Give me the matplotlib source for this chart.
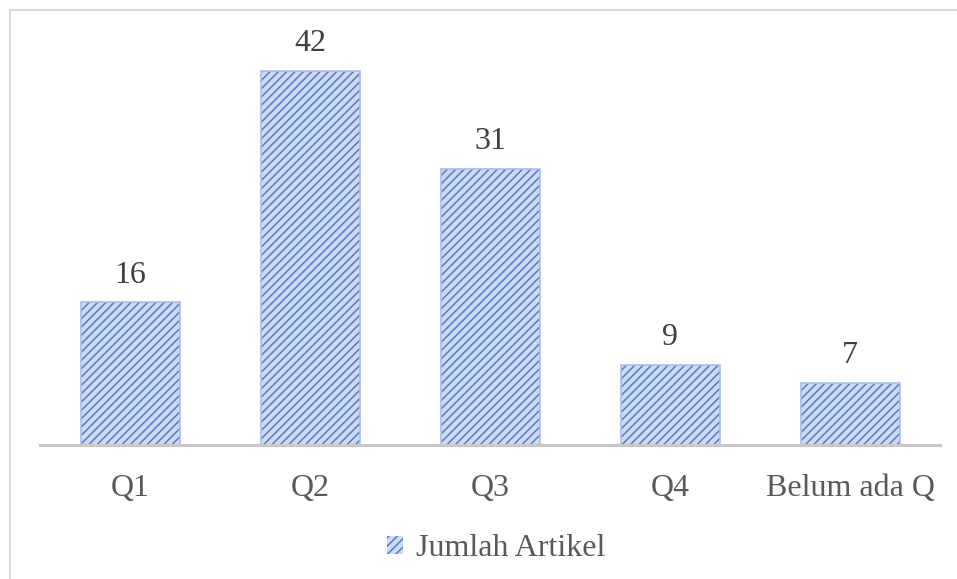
import matplotlib
matplotlib.use("Agg")
import matplotlib.pyplot as plt
from matplotlib.patches import Patch
from matplotlib.lines import Line2D

categories = ["Q1", "Q2", "Q3", "Q4", "Belum ada Q"]
values = [16, 42, 31, 9, 7]
series_name = "Jumlah Artikel"

plt.rcParams['font.family'] = ['Liberation Serif', 'DejaVu Serif']
plt.rcParams['hatch.linewidth'] = 1.1

W, H = 957, 579
fig = plt.figure(figsize=(W / 100, H / 100), dpi=100)
ax = fig.add_axes([40 / W, 134 / H, 900 / W, 401 / H])

face = '#cfdbf4'
hatchc = '#4f7ccb'
x = range(len(categories))
ax.bar(x, values, width=0.55, color=face, edgecolor=hatchc, hatch='////', linewidth=0)
bars = ax.bar(x, values, width=0.55, fill=False, edgecolor='#a9bde9', linewidth=1.2)
ax.bar_label(bars, labels=[str(v) for v in values], padding=9, fontsize=23, color='#404040')

ax.set_xlim(-0.5, len(categories) - 0.5)
ax.set_ylim(0, 45)
ax.set_xticks(list(x))
ax.set_xticklabels(categories, fontsize=23, color='#595959')
ax.tick_params(axis='x', length=0, pad=21)
ax.set_yticks([])
for s in ['top', 'left', 'right']:
    ax.spines[s].set_visible(False)
ax.spines['bottom'].set_color('#c8c8c8')
ax.spines['bottom'].set_linewidth(2.2)

handle = Patch(facecolor=face, edgecolor=hatchc, hatch='////', linewidth=0)
fig.legend([handle], [series_name], loc='center', bbox_to_anchor=(496 / W, 1 - 549 / H),
           frameon=False, fontsize=23, labelcolor='#595959', handlelength=0.5,
           handleheight=0.5, handletextpad=0.4)

# outer border (top and left visible)
fig.add_artist(Line2D([10 / W, 10 / W], [0, 1 - 10 / H], transform=fig.transFigure,
                      color='#d9d9d9', linewidth=1.5))
fig.add_artist(Line2D([10 / W, 1], [1 - 10 / H, 1 - 10 / H], transform=fig.transFigure,
                      color='#d9d9d9', linewidth=1.5))

fig.savefig('out.png', dpi=100)
